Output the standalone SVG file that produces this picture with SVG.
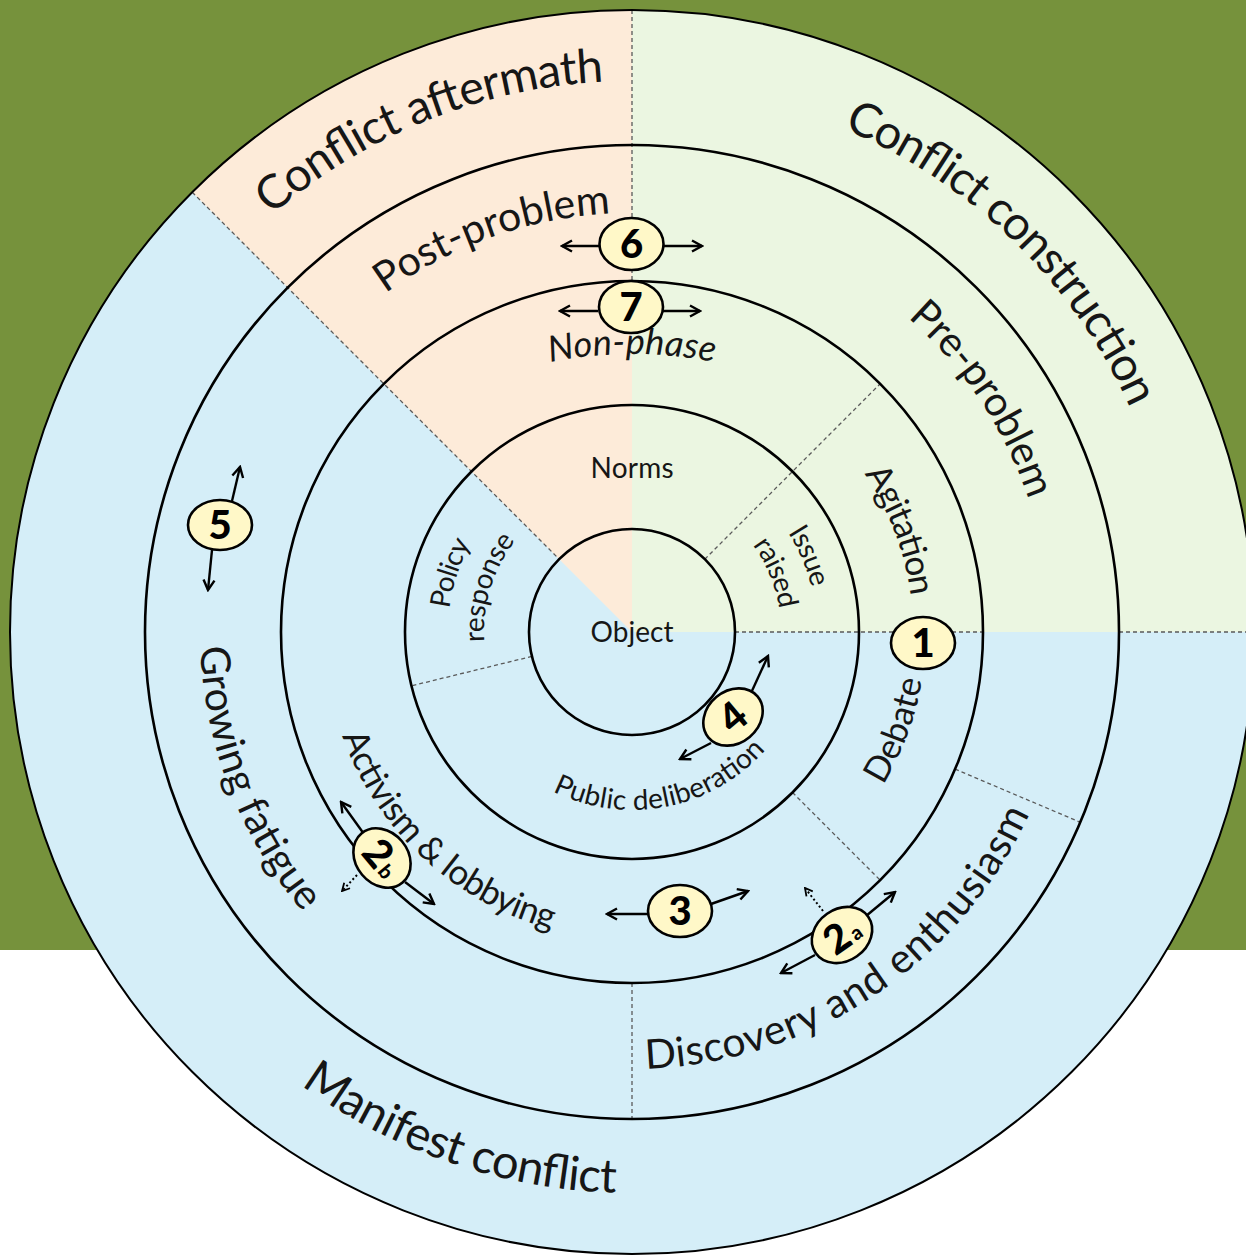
<svg xmlns="http://www.w3.org/2000/svg" width="1246" height="1256" viewBox="0 0 1246 1256">
<defs>
<style>
.ring{fill:none;stroke:#000;stroke-width:2.6}
.div{fill:none;stroke:#5a5a5a;stroke-width:1.3;stroke-dasharray:4 3}
.lbl{font-family:Lato,"Liberation Sans",sans-serif;fill:#161616}
.outer{font-size:47px}
.r4{font-size:41px}
.r3{font-size:35px}
.r2{font-size:28px}
.it{font-style:italic;font-size:36px}
.badge ellipse{fill:#FFF8C8;stroke:#000;stroke-width:2.6}
.num{font-family:Lato,"Liberation Sans",sans-serif;font-weight:900;font-size:40px;text-anchor:middle;fill:#000}
.sub{font-family:Lato,"Liberation Sans",sans-serif;font-weight:900;font-size:20px;text-anchor:middle;fill:#000}
.arr{fill:none;stroke:#000;stroke-width:2.4;marker-end:url(#ah)}
.dot{fill:none;stroke:#000;stroke-width:2;stroke-dasharray:2 2.5;marker-end:url(#ahs)}
</style>
<marker id="ah" markerUnits="userSpaceOnUse" markerWidth="14" markerHeight="14" viewBox="0 0 14 14" refX="12" refY="7" orient="auto">
<path d="M2,1.5 L12,7 L2,12.5" fill="none" stroke="#000" stroke-width="2.4"/>
</marker>
<marker id="ahs" markerUnits="userSpaceOnUse" markerWidth="10" markerHeight="10" viewBox="0 0 10 10" refX="9" refY="5" orient="auto">
<path d="M1.5,1 L9,5 L1.5,9" fill="none" stroke="#000" stroke-width="1.8"/>
</marker>
<path id="p-aftermath" d="M229.7,255.5 A551,551 0 0 1 661.8,81.8"/>
<path id="p-construction" d="M794.4,110.7 A546,546 0 0 1 1149.2,457.0"/>
<path id="p-manifest" d="M264.7,1056.1 A561,561 0 0 0 662.3,1192.2"/>
<path id="p-post" d="M354.4,318.2 A419,419 0 0 1 650.3,213.4"/>
<path id="p-pre" d="M880.0,295.5 A418,418 0 0 1 1038.3,533.7"/>
<path id="p-fatigue" d="M201.0,603.4 A432,432 0 0 0 333.0,943.8"/>
<path id="p-discovery" d="M613.7,1068.6 A437,437 0 0 0 1041.6,784.3"/>
<path id="p-nonphase" d="M500,375.3 A420,420 0 0 1 764,375.3"/>
<path id="p-agitation" d="M844.7,448.4 A281,281 0 0 1 913.0,628.1"/>
<path id="p-debate" d="M862.4,814.6 A294,294 0 0 0 925.7,644.3"/>
<path id="p-activism" d="M331.1,697.6 A308,308 0 0 0 590.7,937.2"/>
<path id="p-public" d="M524.9,774.2 A178,178 0 0 0 784.6,723.7"/>
<path id="p-policy" d="M448.1,638.4 A184,184 0 0 1 487.0,518.7"/>
<path id="p-response" d="M487.7,664.8 A148,148 0 0 1 531.4,523.4"/>
<path id="p-issue" d="M766.9,505.4 A185,185 0 0 1 816.7,621.7"/>
<path id="p-raised" d="M732.9,522.3 A149,149 0 0 1 780.8,638.8"/>
</defs>

<g id="background">
<rect width="1246" height="1256" fill="#ffffff"/>
<rect width="1246" height="950" fill="#76923C"/>
</g>

<g id="sectors">
<circle cx="632" cy="632" r="622" fill="#D5EEF8"/>
<path d="M632,632 L1254,632 A622,622 0 0 0 632,10 Z" fill="#EBF6E1"/>
<path d="M632,632 L632,10 A622,622 0 0 0 192.2,192.2 Z" fill="#FDEBD9"/>
</g>

<g id="dividers">
<line class="div" x1="632" y1="10" x2="632" y2="281"/>
<line class="div" x1="192.2" y1="192.2" x2="559.2" y2="559.2"/>
<line class="div" x1="735" y1="632" x2="983" y2="632"/>
<line class="div" x1="1119" y1="632" x2="1246" y2="632"/>
<line class="div" x1="704.8" y1="559.2" x2="880.2" y2="383.8"/>
<line class="div" x1="531.9" y1="656.4" x2="411.5" y2="685.8"/>
<line class="div" x1="792.5" y1="792.5" x2="880.2" y2="880.2"/>
<line class="div" x1="955.1" y1="769.1" x2="1080.3" y2="822.3"/>
<line class="div" x1="632" y1="983" x2="632" y2="1119"/>
</g>

<g id="rings">
<circle class="ring" cx="632" cy="632" r="622" style="stroke-width:2"/>
<circle class="ring" cx="632" cy="632" r="487"/>
<circle class="ring" cx="632" cy="632" r="351"/>
<circle class="ring" cx="632" cy="632" r="227"/>
<circle class="ring" cx="632" cy="632" r="103"/>
</g>

<g id="labels">
<text class="lbl outer" text-anchor="middle"><textPath href="#p-aftermath" startOffset="50%" textLength="365">Conflict aftermath</textPath></text>
<text class="lbl outer" text-anchor="middle"><textPath href="#p-construction" startOffset="50%" textLength="410">Conflict construction</textPath></text>
<text class="lbl outer" text-anchor="middle"><textPath href="#p-manifest" startOffset="50%" textLength="338">Manifest conflict</textPath></text>
<text class="lbl r4" text-anchor="middle"><textPath href="#p-post" startOffset="50%" textLength="242">Post-problem</textPath></text>
<text class="lbl r4" text-anchor="middle"><textPath href="#p-pre" startOffset="50%" textLength="221">Pre-problem</textPath></text>
<text class="lbl r4" text-anchor="middle"><textPath href="#p-fatigue" startOffset="50%" textLength="290">Growing fatigue</textPath></text>
<text class="lbl r4" text-anchor="middle"><textPath href="#p-discovery" startOffset="50%" textLength="485">Discovery and enthusiasm</textPath></text>
<text class="lbl it" text-anchor="middle"><textPath href="#p-nonphase" startOffset="50%" textLength="165">Non-phase</textPath></text>
<text class="lbl r3" text-anchor="middle"><textPath href="#p-agitation" startOffset="50%" textLength="132">Agitation</textPath></text>
<text class="lbl r3" text-anchor="middle"><textPath href="#p-debate" startOffset="50%" textLength="113">Debate</textPath></text>
<text class="lbl r3" text-anchor="middle"><textPath href="#p-activism" startOffset="50%" textLength="296">Activism &amp; lobbying</textPath></text>
<text class="lbl r2" text-anchor="middle"><textPath href="#p-public" startOffset="50%" textLength="233">Public deliberation</textPath></text>
<text class="lbl r2" text-anchor="middle"><textPath href="#p-policy" startOffset="50%" textLength="69">Policy</textPath></text>
<text class="lbl r2" text-anchor="middle"><textPath href="#p-response" startOffset="50%" textLength="108">response</textPath></text>
<text class="lbl r2" text-anchor="middle"><textPath href="#p-issue" startOffset="50%" textLength="60">Issue</textPath></text>
<text class="lbl r2" text-anchor="middle"><textPath href="#p-raised" startOffset="50%" textLength="70">raised</textPath></text>
<text class="lbl r2" x="632" y="478" text-anchor="middle" textLength="83">Norms</text>
<text class="lbl r2" x="632" y="642" text-anchor="middle" textLength="83">Object</text>
</g>

<g id="connectors">
<line class="arr" x1="599" y1="246" x2="562" y2="246"/>
<line class="arr" x1="664" y1="246" x2="702" y2="246"/>
<line class="arr" x1="598" y1="311" x2="560" y2="311"/>
<line class="arr" x1="663" y1="311" x2="700" y2="311"/>
<line class="arr" x1="232" y1="501" x2="240" y2="467"/>
<line class="arr" x1="212" y1="550" x2="208" y2="590"/>
<line class="arr" x1="751" y1="693" x2="768" y2="656"/>
<line class="arr" x1="711" y1="743" x2="680" y2="759"/>
<line class="arr" x1="648" y1="914" x2="607" y2="914"/>
<line class="arr" x1="711" y1="904" x2="748" y2="891"/>
<line class="arr" x1="866" y1="916" x2="895" y2="892"/>
<line class="arr" x1="815" y1="955" x2="781" y2="973"/>
<line class="dot" x1="823" y1="911" x2="805" y2="888"/>
<line class="arr" x1="364" y1="834" x2="341" y2="802"/>
<line class="arr" x1="405" y1="882" x2="434" y2="904"/>
<line class="dot" x1="357" y1="875" x2="342" y2="891"/>
</g>

<g id="badge-1" class="badge" transform="translate(923,643)">
<ellipse rx="32" ry="26"/><text class="num" y="14">1</text>
</g>
<g id="badge-2a" class="badge" transform="translate(842,935) rotate(-35)">
<ellipse rx="32" ry="26"/><text class="num" x="-6" y="14">2</text><text class="sub" x="13" y="13">a</text>
</g>
<g id="badge-2b" class="badge" transform="translate(382,858) rotate(50)">
<ellipse rx="32" ry="26"/><text class="num" x="-6" y="14">2</text><text class="sub" x="13" y="13">b</text>
</g>
<g id="badge-3" class="badge" transform="translate(680,911)">
<ellipse rx="32" ry="26"/><text class="num" y="14">3</text>
</g>
<g id="badge-4" class="badge" transform="translate(733,717) rotate(-40)">
<ellipse rx="32" ry="26"/><text class="num" y="14">4</text>
</g>
<g id="badge-5" class="badge" transform="translate(220,525)">
<ellipse rx="32" ry="25"/><text class="num" y="14">5</text>
</g>
<g id="badge-6" class="badge" transform="translate(631.5,244)">
<ellipse rx="32" ry="26"/><text class="num" y="14">6</text>
</g>
<g id="badge-7" class="badge" transform="translate(631,307)">
<ellipse rx="32" ry="26"/><text class="num" y="14">7</text>
</g>
</svg>
